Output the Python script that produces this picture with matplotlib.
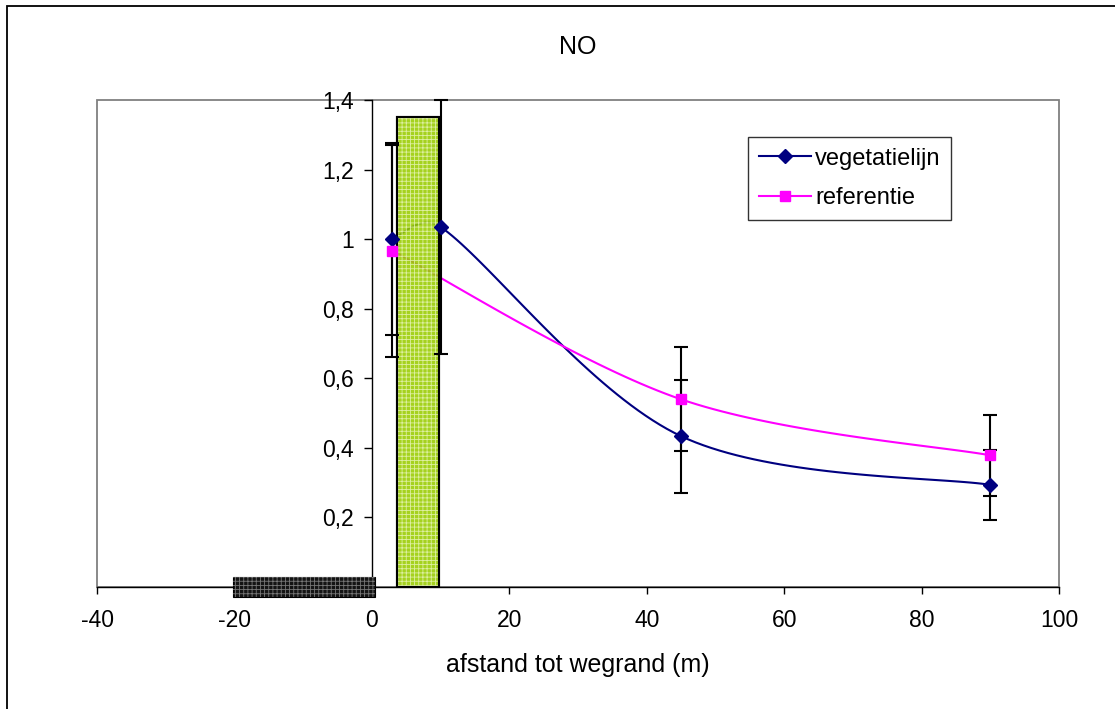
import numpy as np
import matplotlib
matplotlib.use("Agg")
import matplotlib.pyplot as plt
from matplotlib.patches import Rectangle
from matplotlib.lines import Line2D
from matplotlib.ticker import FuncFormatter

plt.rcParams['font.family'] = ['Liberation Sans', 'DejaVu Sans']
plt.rcParams['hatch.linewidth'] = 0.6
plt.rcParams['axes.unicode_minus'] = False

# ---- data ----
title = "NO"
xlabel = "afstand tot wegrand (m)"
veg_x = [3, 10, 45, 90]
veg_y = [1.0, 1.035, 0.433, 0.293]
veg_err = [0.275, 0.365, 0.163, 0.10]
ref_x = [3, 45, 90]
ref_y = [0.966, 0.539, 0.378]
ref_err = [0.305, 0.15, 0.117]
veg_label = "vegetatielijn"
ref_label = "referentie"
# green block (vegetation strip)
green_left, green_width, green_height = 3.7, 6.0, 1.35
# black block (road)
road_left, road_width, road_height = -20.2, 20.7, 0.058
xticks = [-40, -20, 0, 20, 40, 60, 80, 100]
yticks = [0.2, 0.4, 0.6, 0.8, 1.0, 1.2, 1.4]

W, H = 1115, 709
fig = plt.figure(figsize=(W / 100, H / 100), dpi=100)
ax = fig.add_axes([97 / W, 1 - 586.7 / H, (1059 - 97) / W, (586.7 - 100) / H])
ax.set_xlim(-40, 100)
ax.set_ylim(0, 1.4)

# figure outer border
fig.patches.append(Rectangle((7 / W, -0.01), 1.0, 1 - 6 / H + 0.01, transform=fig.transFigure,
                             fill=False, edgecolor='black', linewidth=1.3))


def excel_smooth(xs, ys, n=40):
    pts = ax.transData.transform(np.column_stack([xs, ys]))
    out = [pts[0]]
    m = len(pts)
    for i in range(m - 1):
        p1 = pts[i]
        p2 = pts[i + 1]
        p0 = pts[i - 1] if i > 0 else pts[i]
        p3 = pts[i + 2] if i + 2 < m else pts[i + 1]
        d02 = np.linalg.norm(p2 - p0)
        d12 = np.linalg.norm(p2 - p1)
        d13 = np.linalg.norm(p3 - p1)
        f0 = f1 = 1 / 6
        if not (d02 / 6 < d12 / 2 and d13 / 6 < d12 / 2):
            f0 = (d12 / 2 / d02) if (d02 > 0 and d02 / 6 >= d12 / 2) else 1 / 6
            f1 = (d12 / 2 / d13) if (d13 > 0 and d13 / 6 >= d12 / 2) else 1 / 6
        c1 = p1 + f0 * (p2 - p0)
        c2 = p2 - f1 * (p3 - p1)
        t = np.linspace(0, 1, n)[1:, None]
        seg = ((1 - t) ** 3) * p1 + 3 * ((1 - t) ** 2) * t * c1 + 3 * (1 - t) * t ** 2 * c2 + t ** 3 * p2
        out.extend(seg)
    out = np.array(out)
    d = ax.transData.inverted().transform(out)
    return d[:, 0], d[:, 1]


navy = '#000080'
magenta = '#FF00FF'

# smoothed lines (behind the green block)
sx, sy = excel_smooth(veg_x, veg_y)
ax.plot(sx, sy, color=navy, lw=1.5, zorder=2)
sx, sy = excel_smooth(ref_x, ref_y)
ax.plot(sx, sy, color=magenta, lw=1.5, zorder=2)

# green block
ax.bar([green_left], [green_height], width=green_width, align='edge',
       color='#99CC00', edgecolor='black', linewidth=1.5, alpha=0.88, zorder=3)
ax.bar([green_left], [green_height], width=green_width, align='edge',
       facecolor='none', edgecolor='#DDEFA0', linewidth=0, hatch='++++', zorder=3.1)
ax.bar([green_left], [green_height], width=green_width, align='edge',
       facecolor='none', edgecolor='black', linewidth=1.5, zorder=3.2)

# road block
ax.barh([0], [road_width], left=road_left, height=road_height,
        color='#141414', edgecolor='black', linewidth=0.8, zorder=5, clip_on=False)
ax.barh([0], [road_width], left=road_left, height=road_height,
        facecolor='none', edgecolor='#777777', linewidth=0, hatch='++++', zorder=5.1, clip_on=False)

# error bars
for xs, ys, es in [(veg_x, veg_y, veg_err), (ref_x, ref_y, ref_err)]:
    eb = ax.errorbar(xs, ys, yerr=es, fmt='none', ecolor='black', elinewidth=1.5,
                     capsize=4.8, capthick=1.5, zorder=4)
    for art in eb.lines[1]:
        art.set_clip_on(False)
    for art in eb.lines[2]:
        art.set_clip_on(False)

# markers
ax.plot(veg_x, veg_y, linestyle='none', marker='D', markersize=7, color=navy, zorder=6)
ax.plot(ref_x, ref_y, linestyle='none', marker='s', markersize=7, color=magenta, zorder=6)

# axes styling
for s in ['top', 'right']:
    ax.spines[s].set_visible(False)
ax.spines['left'].set_position(('data', 0))
ax.spines['left'].set_color('black')
ax.spines['bottom'].set_color('black')
ax.spines['left'].set_linewidth(1.0)
ax.spines['bottom'].set_linewidth(1.0)
ax.spines['left'].set_zorder(2.5)
ax.add_patch(Rectangle((0, 0), 1, 1, transform=ax.transAxes, fill=False,
                       edgecolor='#808080', linewidth=1.3, zorder=0.5, clip_on=False))

ax.set_xticks(xticks)
ax.set_yticks(yticks)
ax.yaxis.set_major_formatter(FuncFormatter(lambda v, p: f"{v:.1f}".replace('.', ',') if abs(v - 1) > 1e-9 else "1"))
ax.tick_params(axis='x', direction='out', length=5, width=1, labelsize=16.5, pad=11)
ax.tick_params(axis='y', direction='out', length=6, width=1, labelsize=16.5, pad=7)

fig.text(578 / W, 1 - 47 / H, title, ha='center', va='center', fontsize=18)
fig.text(578 / W, 1 - 665 / H, xlabel, ha='center', va='center', fontsize=18)

handles = [Line2D([], [], color=navy, lw=1.5, marker='D', markersize=7),
           Line2D([], [], color=magenta, lw=1.5, marker='s', markersize=7)]
leg = fig.legend(handles, [veg_label, ref_label], loc='upper left',
                 bbox_to_anchor=(748 / W, 1 - 137 / H), fontsize=17, frameon=True,
                 fancybox=False, shadow=False, handlelength=2.2, handletextpad=0.2,
                 labelspacing=0.75, borderpad=0.45, borderaxespad=0)
leg.get_frame().set_edgecolor('black')
leg.get_frame().set_linewidth(1.0)

fig.savefig('out.png', dpi=100)
